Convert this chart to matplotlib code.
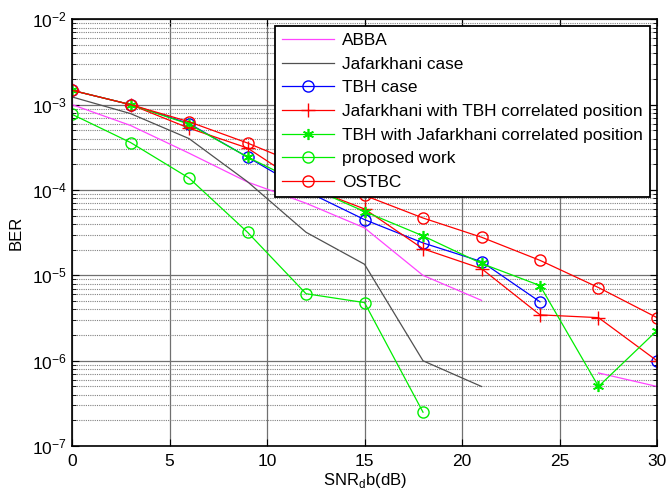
import numpy as np
import matplotlib.pyplot as plt
from matplotlib.ticker import LogLocator, NullFormatter

plt.rcParams['font.family'] = ['Liberation Sans', 'DejaVu Sans']

nan = np.nan
snr = [0, 3, 6, 9, 12, 15, 18, 21, 24, 27, 30]

abba = [1.0e-3, 5.7e-4, 2.7e-4, 1.24e-4, 7.0e-5, 3.6e-5, 1.0e-5, 5.1e-6, nan, 7.2e-7, 5.0e-7]
jaf = [1.23e-3, 7.85e-4, 4.0e-4, 1.25e-4, 3.2e-5, 1.35e-5, 1.0e-6, 5.0e-7, nan, nan, nan]
tbh = [1.47e-3, 1.0e-3, 6.0e-4, 2.43e-4, 9.7e-5, 4.5e-5, 2.4e-5, 1.45e-5, 4.9e-6, nan, 1.0e-6]
jaf_tbh = [1.47e-3, 1.0e-3, 5.3e-4, 3.1e-4, 1.1e-4, 6.0e-5, 2.05e-5, 1.2e-5, 3.45e-6, 3.2e-6, 1.0e-6]
tbh_jaf = [1.47e-3, 1.0e-3, 5.9e-4, 2.43e-4, 1.12e-4, 5.6e-5, 2.9e-5, 1.38e-5, 7.6e-6, 5.0e-7, 2.26e-6]
proposed = [7.7e-4, 3.6e-4, 1.38e-4, 3.2e-5, 6.1e-6, 4.8e-6, 2.5e-7, nan, nan, nan, nan]
ostbc = [1.47e-3, 1.0e-3, 6.3e-4, 3.55e-4, 1.85e-4, 8.65e-5, 4.7e-5, 2.8e-5, 1.5e-5, 7.2e-6, 3.2e-6]

fig = plt.figure(figsize=(6.67, 4.93), dpi=100)
ax = fig.add_axes([0.108, 0.095, 0.877, 0.866])

lw = 0.9
ms = 8
ax.semilogy(snr, abba, '-', color='#ff44ff', lw=lw, label='ABBA')
ax.semilogy(snr, jaf, '-', color='#505050', lw=lw, label='Jafarkhani case')
ax.semilogy(snr, tbh, '-o', color='#0000ff', lw=lw, ms=ms, mfc='none', label='TBH case')
ax.semilogy(snr, jaf_tbh, '-+', color='#ff0000', lw=lw, ms=ms + 2, mew=1.0,
            label='Jafarkhani with TBH correlated position')
ax.semilogy(snr, tbh_jaf, '-', marker=(6, 2, 0), color='#00ee00', lw=lw, ms=ms, mew=1.2,
            label='TBH with Jafarkhani correlated position')
ax.semilogy(snr, proposed, '-o', color='#00ee00', lw=lw, ms=ms, mfc='none', label='proposed work')
ax.semilogy(snr, ostbc, '-o', color='#ff0000', lw=lw, ms=ms, mfc='none', label='OSTBC')

ax.set_xlim(0, 30)
ax.set_ylim(1e-7, 1e-2)
ax.set_xticks([0, 5, 10, 15, 20, 25, 30])
ax.yaxis.set_major_locator(LogLocator(base=10, numticks=10))
ax.yaxis.set_minor_locator(LogLocator(base=10, subs=np.arange(2, 10), numticks=20))
ax.yaxis.set_minor_formatter(NullFormatter())
ax.tick_params(which='both', direction='in', top=True, right=True, labelsize=12.5)
ax.tick_params(which='major', length=5)
ax.tick_params(which='minor', length=3)
ax.tick_params(axis='x', pad=6)

ax.grid(True, which='major', color='#707070', lw=0.9, ls='-')
ax.grid(True, which='minor', axis='y', color='#808080', lw=0.8, ls=(0, (1, 1)))
for s in ax.spines.values():
    s.set_linewidth(1.2)

ax.set_xlabel('SNR$_\\mathregular{d}$b(dB)', fontsize=12, labelpad=1)
ax.set_ylabel('BER', fontsize=12, labelpad=6)

leg = ax.legend(loc='upper right', fontsize=12.4, fancybox=False, framealpha=1,
                edgecolor='black', borderpad=0.4, labelspacing=0.5, handlelength=3.0,
                handletextpad=0.5, borderaxespad=0.4)
leg.get_frame().set_linewidth(1.3)

fig.savefig('out.png', dpi=100)
